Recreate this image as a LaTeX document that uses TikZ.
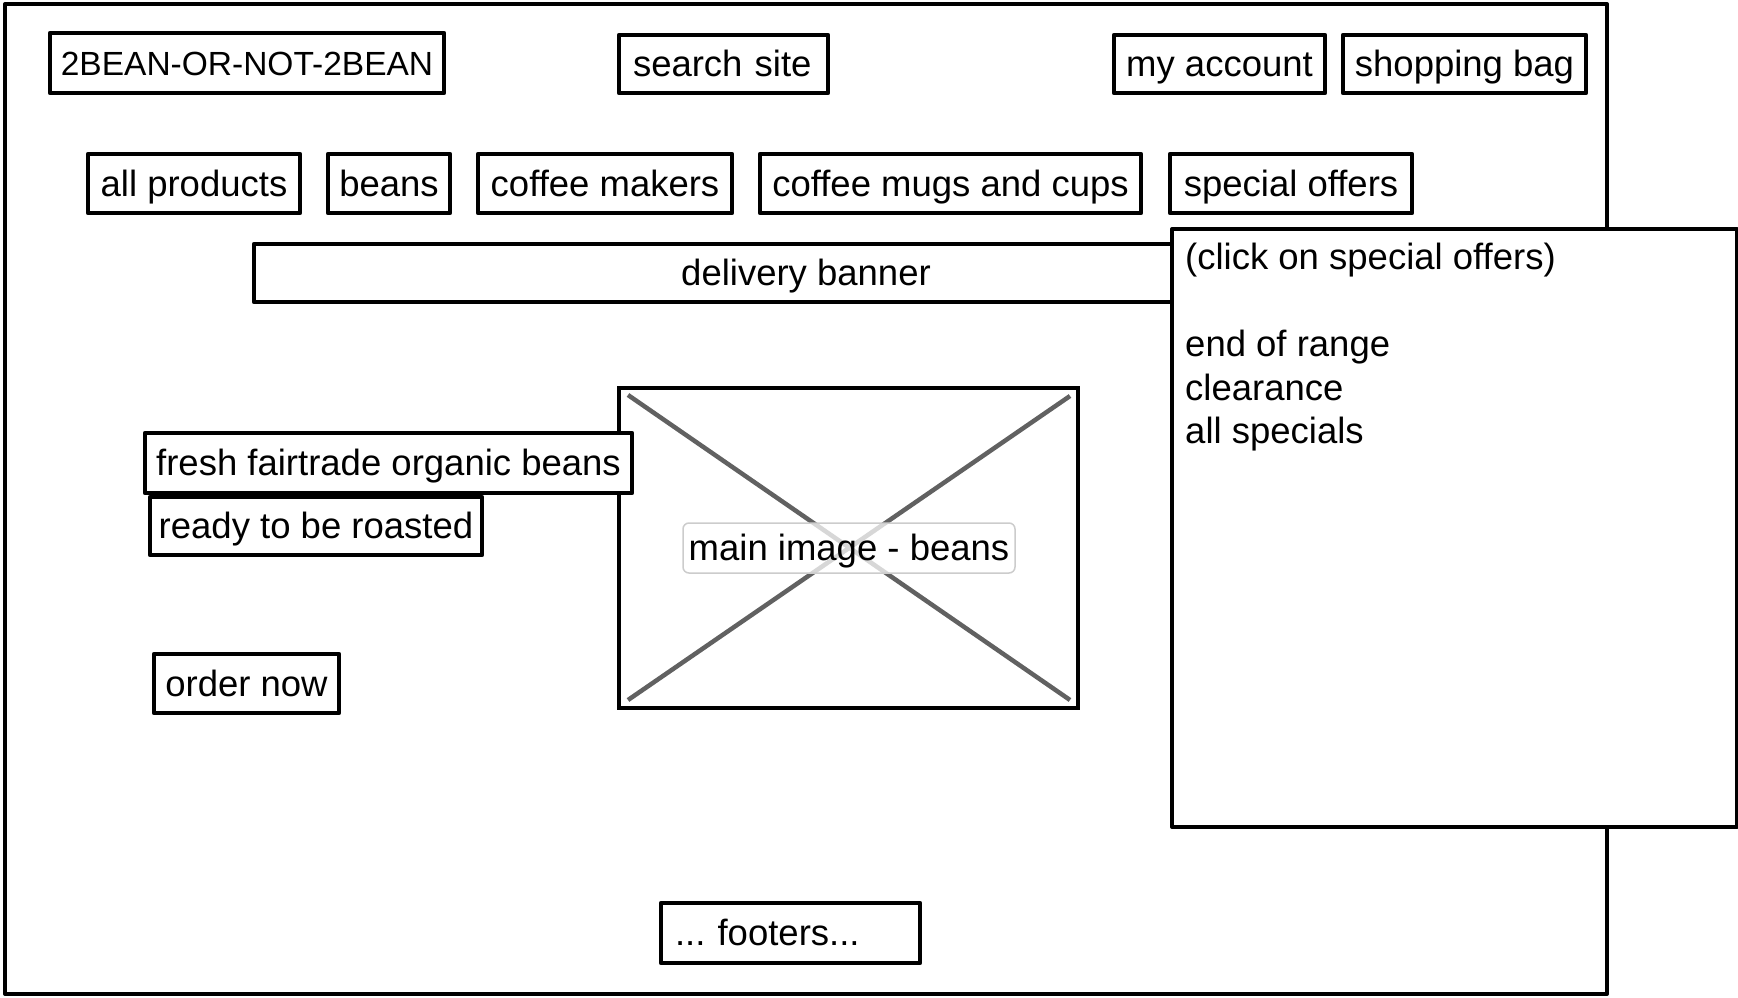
\documentclass[tikz,border=0pt]{standalone}
\usepackage{fontspec}
\setmainfont{Liberation Sans}
\frenchspacing
\begin{document}
\begin{tikzpicture}[x=1pt,y=-1pt,
  every node/.style={font=\fontsize{36.5}{43.5}\selectfont},
  box/.style={draw, line width=4.5pt, line join=round, inner sep=0pt, text height=32pt, text depth=7pt, fill=white},
  frame/.style={draw, line width=4pt, line join=round},
  cross/.style={draw=black!62, line width=4.5pt},
  lbl/.style={draw=black!20, line width=1.5pt, rounded corners=6pt, fill=white, fill opacity=0.75, text opacity=1, inner sep=0pt, text height=32pt, text depth=7pt}
]
\useasboundingbox (0,0) rectangle (1738,998);
% outer page frame
\draw[frame] (5,4) rectangle (1607,994);
% delivery banner (runs under the popup)
\node[box, minimum width=1104pt, minimum height=58pt] (banner) at (806,273) {delivery banner};
% popup panel
\node[frame, fill=white, anchor=north west, minimum width=565pt, minimum height=598pt, inner sep=0pt] (popup) at (1170,227) {};
\node[anchor=north west, align=left, inner sep=0pt] (popuptext) at (1185,243)
  {(click on special offers)\\[0pt] \\ end of range\\ clearance\\ all specials};
% header row
\node[box, minimum width=394pt, minimum height=60pt, font=\fontsize{33.5}{40}\selectfont] (logo) at (247,63) {2BEAN-OR-NOT-2BEAN};
\node[box, minimum width=209pt, minimum height=58pt, text width=181pt, align=left, inner xsep=14pt] (search) at (723.5,64) {search site};
\node[box, minimum width=211pt, minimum height=58pt] (account) at (1219.5,64) {my account};
\node[box, minimum width=243pt, minimum height=58pt] (bag) at (1464.5,64) {shopping bag};
% menu row
\node[box, minimum width=212pt, minimum height=59pt] (allp) at (194,183.5) {all products};
\node[box, minimum width=122pt, minimum height=59pt] (beans) at (389,183.5) {beans};
\node[box, minimum width=254pt, minimum height=59pt] (makers) at (605,183.5) {coffee makers};
\node[box, minimum width=381pt, minimum height=59pt] (mugs) at (950.5,183.5) {coffee mugs and cups};
\node[box, minimum width=242pt, minimum height=59pt] (special) at (1291,183.5) {special offers};
% main image placeholder
\node[draw, line width=4.5pt, minimum width=459pt, minimum height=320pt, inner sep=0pt] (img) at (848.5,548) {};
\draw[cross] (628,395) -- (1070,700);
\draw[cross] (1070,396) -- (628,700);
\node[lbl, minimum width=332pt, minimum height=50pt] (imglbl) at (849,548) {main image - beans};
% left texts
\node[box, minimum width=487pt, minimum height=60pt] (fresh) at (388.5,463) {fresh fairtrade organic beans};
\node[box, minimum width=332pt, minimum height=58pt] (ready) at (316,526) {ready to be roasted};
\node[box, minimum width=185pt, minimum height=59pt] (order) at (246.5,683.5) {order now};
% footer
\node[box, minimum width=259pt, minimum height=60pt, text width=231pt, align=left, inner xsep=14pt] (footers) at (790.5,933) {... footers...};
\end{tikzpicture}
\end{document}
